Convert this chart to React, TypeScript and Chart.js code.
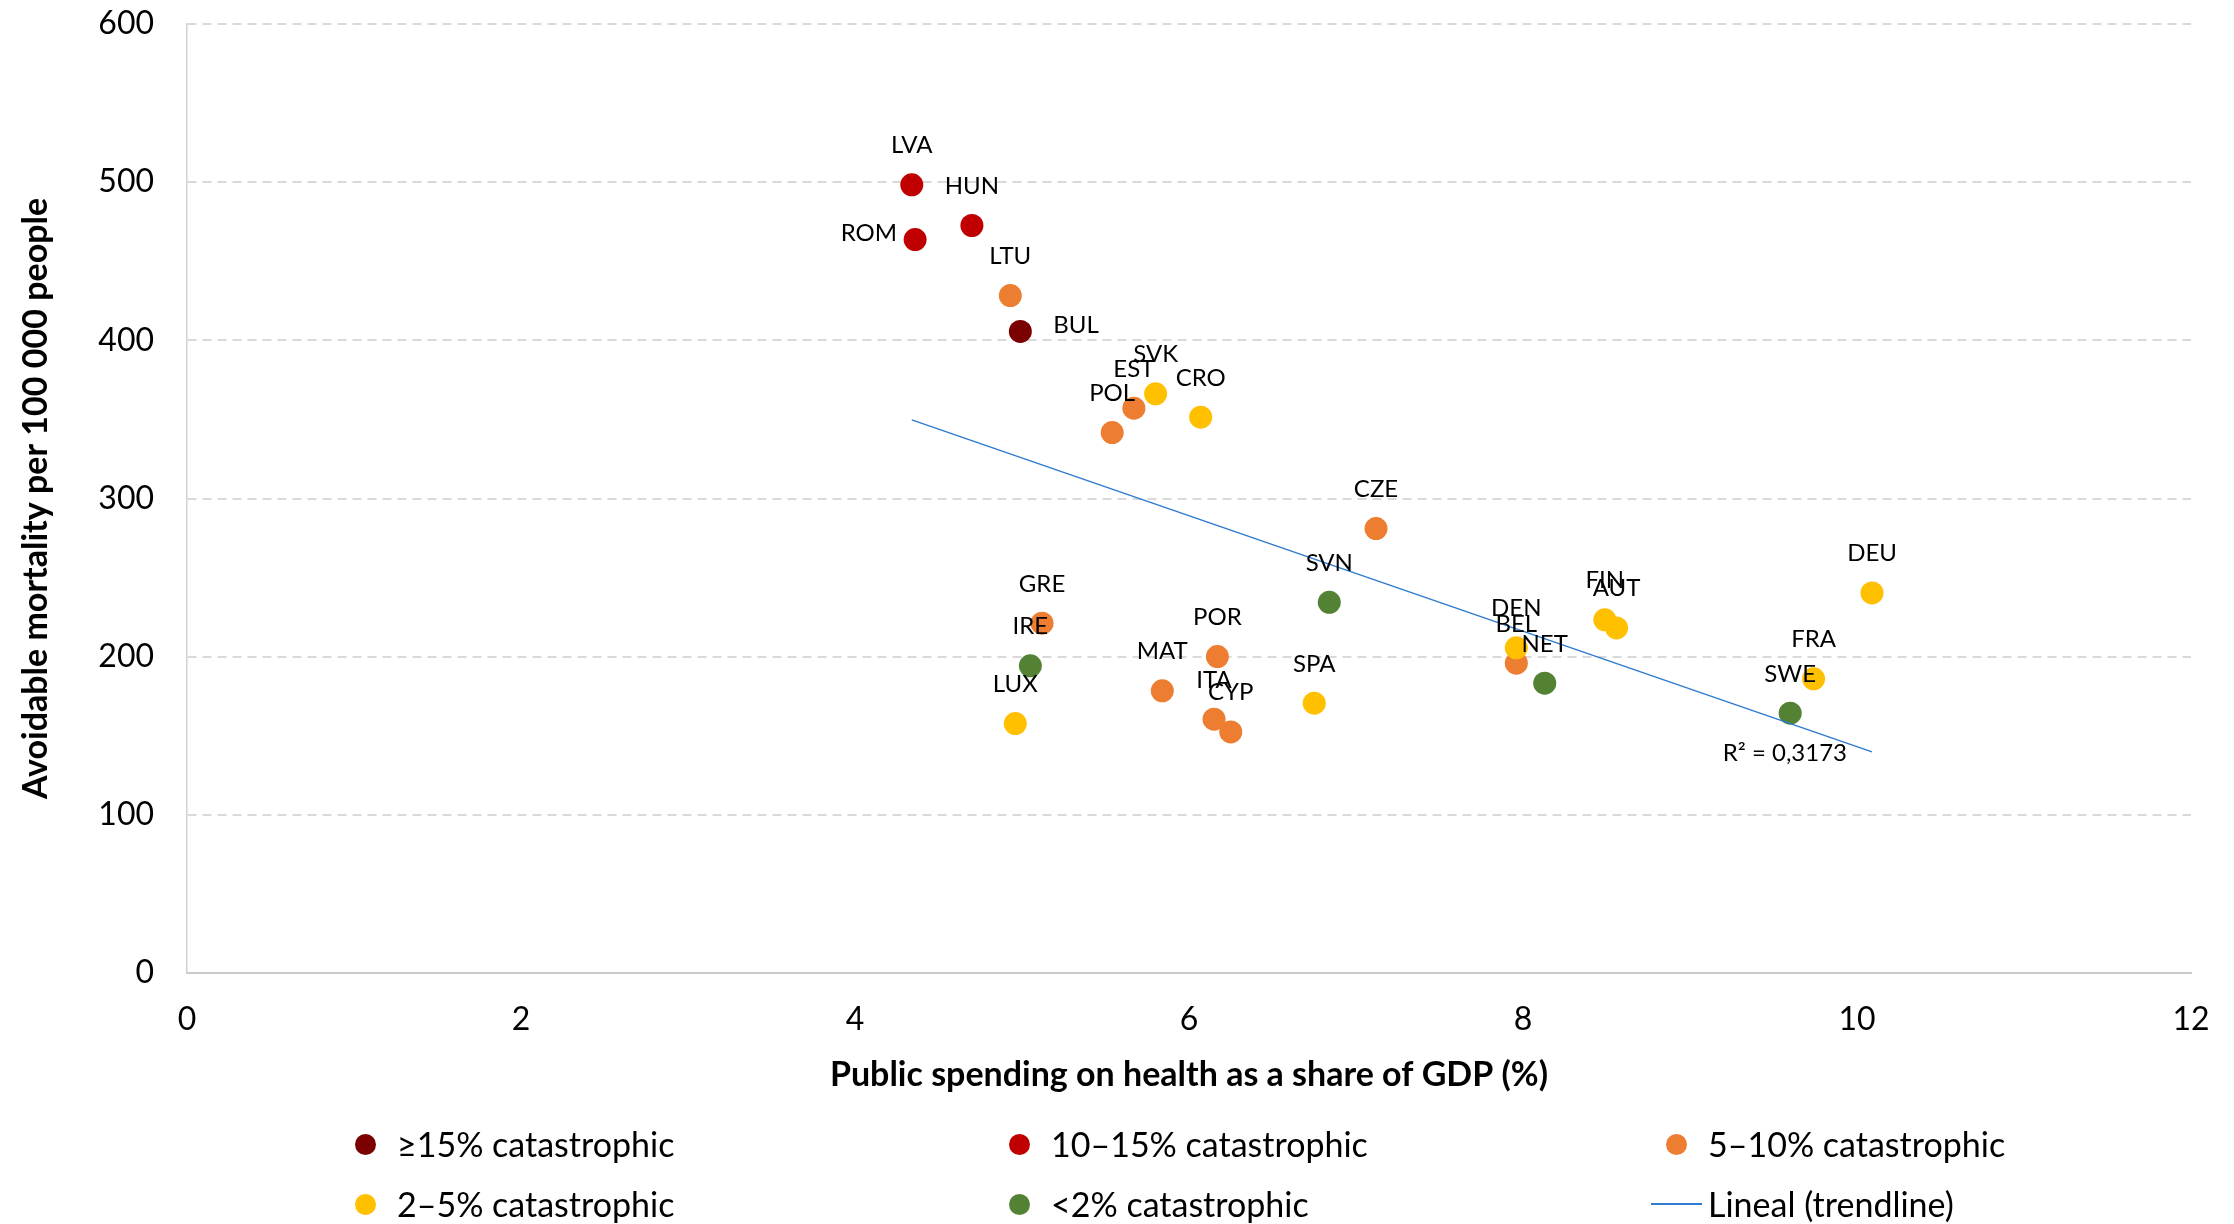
import React, { useEffect, useRef } from 'react';
import { Chart, registerables } from 'chart.js';

Chart.register(...registerables);

// ---- Data ----
const countries = ['LVA', 'HUN', 'ROM', 'LTU', 'BUL', 'SVK', 'EST', 'POL', 'CRO', 'CZE', 'SVN', 'GRE', 'IRE', 'LUX', 'MAT', 'POR', 'ITA', 'CYP', 'SPA', 'DEN', 'BEL', 'NET', 'FIN', 'AUT', 'DEU', 'FRA', 'SWE'];
const spending = [4.34, 4.70, 4.36, 4.93, 4.99, 5.80, 5.67, 5.54, 6.07, 7.12, 6.84, 5.12, 5.05, 4.96, 5.84, 6.17, 6.15, 6.25, 6.75, 7.96, 7.96, 8.13, 8.49, 8.56, 10.09, 9.74, 9.60];
const mortality = [498.3, 472.6, 463.7, 428.3, 405.6, 366.2, 357.1, 341.7, 351.4, 281.0, 234.4, 221.2, 194.2, 157.7, 178.4, 200.1, 160.5, 152.4, 170.6, 205.6, 195.9, 183.2, 223.3, 218.2, 240.3, 186.0, 164.3];
// index into groupLabels
const catastrophicGroup = [1, 1, 1, 2, 0, 3, 2, 2, 3, 2, 4, 2, 4, 3, 2, 2, 2, 2, 3, 3, 2, 4, 3, 3, 3, 3, 4];
const groupLabels = ['≥15% catastrophic', '10–15% catastrophic', '5–10% catastrophic', '2–5% catastrophic', '<2% catastrophic'];
const trendLabel = 'Lineal (trendline)';
const r2Label = 'R² = 0,3173';
const xTitle = 'Public spending on health as a share of GDP (%)';
const yTitle = 'Avoidable mortality per 100 000 people';

// ---- Styles ----
const groupColors = ['#7B0000', '#C00000', '#ED7D31', '#FFC000', '#548235'];
const trendColor = '#2E7BCF';
const labelPlacement: Record<string, string> = { ROM: 'left', BUL: 'right' };
const FONT = 'Lato, "Open Sans", sans-serif';

const legendCols = [397, 1051, 1708];
const legendRows = [1144, 1204];

export default function App() {
  const ref = useRef<HTMLCanvasElement | null>(null);

  useEffect(() => {
    const canvas = ref.current;
    if (!canvas) return;

    const n = spending.length;
    const mx = spending.reduce((a, b) => a + b, 0) / n;
    const my = mortality.reduce((a, b) => a + b, 0) / n;
    let sxy = 0;
    let sxx = 0;
    for (let i = 0; i < n; i++) {
      sxy += (spending[i] - mx) * (mortality[i] - my);
      sxx += (spending[i] - mx) * (spending[i] - mx);
    }
    const slope = sxy / sxx;
    const intercept = my - slope * mx;
    const xMin = Math.min(...spending);
    const xMax = Math.max(...spending);
    const trend = [
      { x: xMin, y: intercept + slope * xMin },
      { x: xMax, y: intercept + slope * xMax },
    ];

    const datasets: any[] = groupLabels.map((label, g) => ({
      type: 'scatter',
      label,
      data: countries
        .map((c, i) => ({ x: spending[i], y: mortality[i], name: c, g: catastrophicGroup[i] }))
        .filter((p) => p.g === g),
      backgroundColor: groupColors[g],
      borderWidth: 0,
      pointRadius: 11.5,
      pointHoverRadius: 11.5,
      order: 10 - g,
    }));
    datasets.push({
      type: 'line',
      label: trendLabel,
      data: trend,
      borderColor: trendColor,
      borderWidth: 1.5,
      pointRadius: 0,
      fill: false,
      order: 0,
      isTrend: true,
    });

    const labelsPlugin = {
      id: 'pointLabels',
      afterDatasetsDraw(chart: any) {
        const ctx = chart.ctx;
        ctx.save();
        ctx.font = `24px ${FONT}`;
        ctx.fillStyle = '#000';
        ctx.textBaseline = 'alphabetic';
        chart.data.datasets.forEach((ds: any, di: number) => {
          if (ds.isTrend) return;
          const meta = chart.getDatasetMeta(di);
          meta.data.forEach((el: any, i: number) => {
            const name = ds.data[i].name;
            const place = labelPlacement[name] || 'above';
            if (place === 'left') {
              ctx.textAlign = 'right';
              ctx.fillText(name, el.x - 18, el.y + 1.5);
            } else if (place === 'right') {
              ctx.textAlign = 'left';
              ctx.fillText(name, el.x + 33, el.y + 1.5);
            } else {
              ctx.textAlign = 'center';
              ctx.fillText(name, el.x, el.y - 31.5);
            }
          });
        });
        const tIdx = chart.data.datasets.findIndex((d: any) => d.isTrend);
        const tMeta = chart.getDatasetMeta(tIdx);
        const end = tMeta.data[tMeta.data.length - 1];
        if (end) {
          ctx.textAlign = 'right';
          ctx.fillText(r2Label, end.x - 25, end.y + 9);
        }
        ctx.restore();
      },
    };

    const chart = new Chart(canvas, {
      type: 'scatter',
      data: { datasets },
      options: {
        responsive: false,
        animation: false,
        devicePixelRatio: 1,
        layout: { padding: { left: 0, right: 43, top: 24, bottom: 129 } },
        plugins: {
          legend: { display: false },
          tooltip: { enabled: false },
        },
        scales: {
          x: {
            type: 'linear',
            min: 0,
            max: 12,
            ticks: { stepSize: 2, font: { family: FONT, size: 32 }, color: '#000', padding: 27 },
            grid: { display: false, drawTicks: false },
            border: { display: true, color: '#C8C8C8', width: 2 },
            title: {
              display: true,
              text: xTitle,
              color: '#000',
              font: { family: FONT, size: 34, weight: 'bold' },
              padding: { top: 0, bottom: 0 },
            },
            afterFit: (scale: any) => {
              scale.height = 122;
              scale.paddingLeft = 0;
              scale.paddingRight = 0;
            },
          },
          y: {
            type: 'linear',
            min: 0,
            max: 600,
            ticks: { stepSize: 100, font: { family: FONT, size: 32 }, color: '#000', padding: 33 },
            grid: { color: '#D9D9D9', lineWidth: 2, drawTicks: false },
            border: { display: true, color: '#D0D0D0', width: 1.5, dash: [9, 6] },
            title: {
              display: true,
              text: yTitle,
              color: '#000',
              font: { family: FONT, size: 34, weight: 'bold' },
              padding: { top: 16, bottom: 0 },
            },
            afterFit: (scale: any) => {
              scale.width = 187;
              scale.paddingTop = 0;
              scale.paddingBottom = 0;
            },
          },
        },
      } as any,
      plugins: [labelsPlugin],
    });

    return () => chart.destroy();
  }, []);

  const legendItems = [
    ...groupLabels.map((label, g) => ({ label, color: groupColors[g], line: false })),
    { label: trendLabel, color: trendColor, line: true },
  ];

  return (
    <div style={{ position: 'fixed', left: 0, top: 0, width: 2234, height: 1224, background: '#fff', overflow: 'hidden' }}>
      <canvas ref={ref} width={2234} height={1224} style={{ position: 'absolute', left: 0, top: 0, width: 2234, height: 1224 }} />
      {legendItems.map((item, i) => {
        const col = i % 3;
        const row = Math.floor(i / 3);
        const tx = legendCols[col];
        const cy = legendRows[row];
        return (
          <div key={i} style={{ position: 'absolute', left: 0, top: 0 }}>
            {item.line ? (
              <div style={{ position: 'absolute', left: tx - 57, top: cy - 1, width: 51, height: 2, background: item.color }} />
            ) : (
              <div style={{ position: 'absolute', left: tx - 42, top: cy - 10.5, width: 21, height: 21, borderRadius: '50%', background: item.color }} />
            )}
            <span
              style={{
                position: 'absolute',
                left: tx,
                top: cy - 21,
                height: 42,
                lineHeight: '42px',
                whiteSpace: 'nowrap',
                fontFamily: FONT,
                fontSize: 34,
                color: '#000',
              }}
            >
              {item.label}
            </span>
          </div>
        );
      })}
    </div>
  );
}
